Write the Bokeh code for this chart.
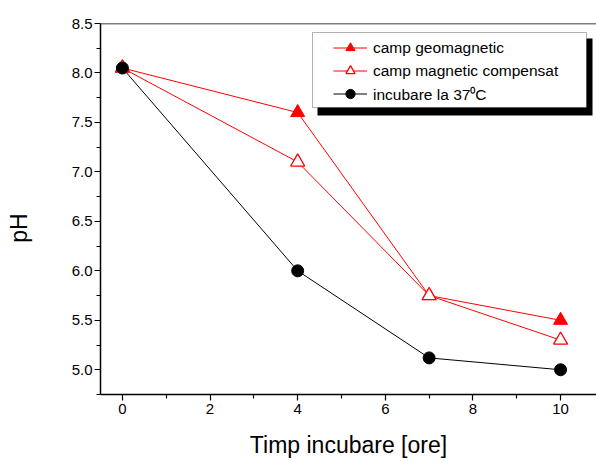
from bokeh.plotting import figure
from bokeh.models import (Legend, LegendItem, Span, BoxAnnotation, Range1d,
                          FixedTicker, NumeralTickFormatter)
from bokeh.embed import file_html
from bokeh.resources import INLINE

# ---- data ----
hours = [0, 4, 7, 10]
ph_geomagnetic = [8.05, 7.6, 5.75, 5.5]
ph_compensat = [8.05, 7.1, 5.75, 5.3]
ph_37c = [8.05, 6.0, 5.12, 5.0]
series_labels = ["camp geomagnetic", "camp magnetic compensat", "incubare la 37\u2070C"]
x_ticks = [0, 2, 4, 6, 8, 10]
x_minor = [1, 3, 5, 7, 9]
y_ticks = [5.0, 5.5, 6.0, 6.5, 7.0, 7.5, 8.0, 8.5]
y_minor = [4.75, 5.25, 5.75, 6.25, 6.75, 7.25, 7.75, 8.25]
x_title = "Timp incubare [ore]"
y_title = "pH"

FONT = "Liberation Sans"
X0, X1 = -0.5, 10.82
Y0, Y1 = 4.75, 8.5

p = figure(width=596, height=462, output_backend="svg", toolbar_location=None,
           x_range=Range1d(X0, X1), y_range=Range1d(Y0, Y1),
           min_border_left=100, min_border_right=0,
           min_border_top=23, min_border_bottom=68)
p.background_fill_color = "white"
p.border_fill_color = "white"
p.outline_line_color = None
p.grid.grid_line_color = None

# axes
for ax in (p.xaxis[0], p.yaxis[0]):
    ax.axis_line_color = "black"
    ax.axis_line_width = 1.5
    ax.major_tick_line_color = "black"
    ax.minor_tick_line_color = "black"
    ax.major_tick_line_width = 1.2
    ax.minor_tick_line_width = 1.2
    ax.major_tick_in = 0
    ax.major_tick_out = 6
    ax.minor_tick_in = 0
    ax.minor_tick_out = 4
    ax.major_label_text_font = FONT
    ax.major_label_text_font_size = "15px"
    ax.major_label_text_color = "black"
    ax.axis_label_text_font = FONT
    ax.axis_label_text_font_style = "normal"
    ax.axis_label_text_font_size = "23px"
    ax.axis_label_text_color = "black"

p.xaxis.ticker = FixedTicker(ticks=x_ticks, minor_ticks=x_minor)
p.yaxis.ticker = FixedTicker(ticks=y_ticks, minor_ticks=y_minor)
p.xaxis.formatter = NumeralTickFormatter(format="0")
p.yaxis.formatter = NumeralTickFormatter(format="0.0")
p.xaxis.axis_label = x_title
# trailing no-break spaces nudge the rotated title slightly downward
p.yaxis.axis_label = y_title + "\u00a0" * 6
p.xaxis.major_label_standoff = 3
p.yaxis.major_label_standoff = 2
p.xaxis.axis_label_standoff = 15
p.yaxis.axis_label_standoff = 37

# top frame line
p.add_layout(Span(location=Y1, dimension="width", line_color="black", line_width=1.5))

# series
l1 = p.line(hours, ph_geomagnetic, line_color="red", line_width=1)
l2 = p.line(hours, ph_compensat, line_color="red", line_width=1)
l3 = p.line(hours, ph_37c, line_color="black", line_width=1)
s1 = p.scatter(hours, ph_geomagnetic, marker="triangle", size=14,
               fill_color="red", line_color="red", line_width=1)
s2 = p.scatter(hours, ph_compensat, marker="triangle", size=14,
               fill_color="white", line_color="red", line_width=1.3)
s3 = p.scatter(hours, ph_37c, marker="circle", size=12,
               fill_color="black", line_color="black", line_width=1)

# pixel -> data conversion for decorations
def px2x(px):
    return X0 + (px - 100) * (X1 - X0) / 496.0

def py2y(py):
    return Y1 - (py - 23) * (Y1 - Y0) / 371.0

# legend frame + shadow
shadow = BoxAnnotation(left=px2x(317), right=px2x(592), top=py2y(38), bottom=py2y(115),
                       fill_color="black", fill_alpha=1.0, line_color=None)
p.add_layout(shadow)
frame = BoxAnnotation(left=px2x(312), right=px2x(586), top=py2y(32), bottom=py2y(107),
                      fill_color="white", fill_alpha=1.0, line_color="black", line_width=1)
p.add_layout(frame)

legend = Legend(items=[
    LegendItem(label=series_labels[0], renderers=[l1, s1]),
    LegendItem(label=series_labels[1], renderers=[l2, s2]),
    LegendItem(label=series_labels[2], renderers=[l3, s3]),
], location=(233, 289))
legend.margin = 0
legend.padding = 0
legend.spacing = 0
legend.glyph_width = 34
legend.glyph_height = 23
legend.label_height = 23
legend.label_standoff = 6
legend.label_text_font = FONT
legend.label_text_font_size = "15.5px"
legend.label_text_color = "black"
legend.border_line_color = None
legend.background_fill_alpha = 0.0
p.add_layout(legend)

open("out.html", "w").write(file_html(p, INLINE))
